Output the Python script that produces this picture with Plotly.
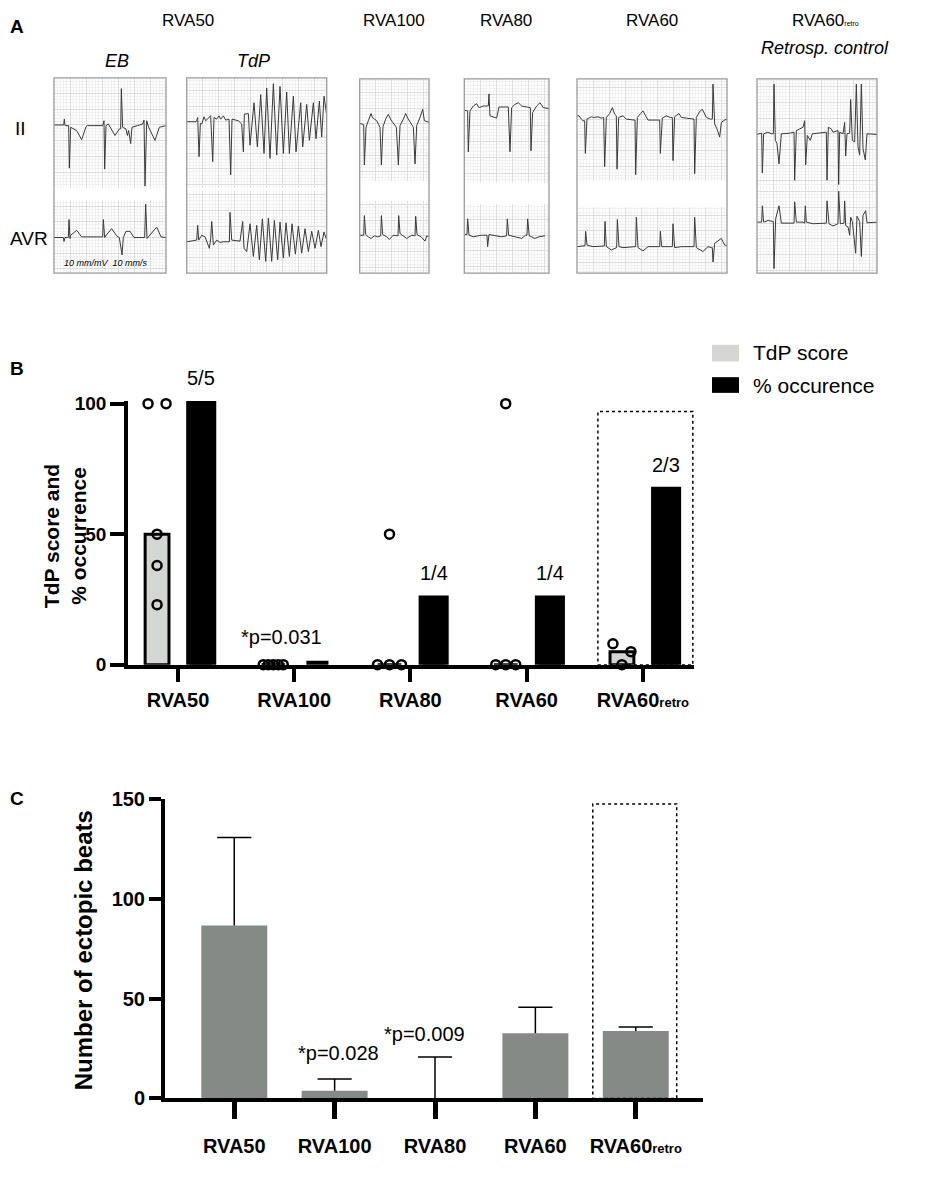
import numpy as np
import plotly.graph_objects as go

W, H = 925, 1175   # figure size; the page adds an 8px body margin
OFF = 8
FONT = "Liberation Sans, Arial, sans-serif"

groups = ["RVA50", "RVA100", "RVA80", "RVA60", "RVA60retro"]
group_ticks = ["RVA50", "RVA100", "RVA80", "RVA60",
               "RVA60<span style='font-size:13px'>retro</span>"]

# panel B: TdP score per animal, occurrence as n / total
tdp_points = [[100, 100, 50, 38, 23], [0, 0, 0, 0, 0], [50, 0, 0, 0],
              [100, 0, 0, 0], [8, 5, 0]]
occ_n = [5, 0, 1, 1, 2]
occ_total = [5, 5, 4, 4, 3]
occ_pval = [None, "*p=0.031", None, None, None]

# panel C: ectopic beats, mean and SD
ectopic_mean = [86.6, 3.8, 0, 32.6, 33.8]
ectopic_sd = [44.2, 5.9, 20.8, 13.1, 2.0]
ectopic_pval = [None, "*p=0.028", "*p=0.009", None, None]

# panel A: ECG strips, (time, amplitude)
eb_ii = [(0, 0), (29, 0), (31, 18), (33, -2), (44, -2), (46, -132), (50, -7), (68, -17), (83, -45),
         (96, -5), (100, -2), (146, -2), (150, 13), (152, -135), (156, -2), (163, 3), (183, -32),
         (196, -12), (200, -12), (202, 111), (206, -7), (216, -12), (220, -32), (224, -17),
         (230, -57), (234, -7), (250, -2), (266, 3), (270, 15), (273, -187), (278, 13), (284, -7),
         (303, -47), (316, -7), (336, -2)]
eb_avr = [(0, 0), (28, 0), (30, -12), (33, 0), (43, 0), (45, 55), (48, -3), (50, 7), (68, 22),
          (83, 2), (146, 2), (148, 55), (152, 0), (158, 9), (173, 27), (188, 5), (196, 0),
          (204, -53), (208, 0), (216, 19), (228, 19), (240, 0), (272, 0), (275, 102), (279, -3),
          (288, 7), (308, 32), (321, 2), (336, 0)]
tdp_ii = [(0, 0), (28, 0), (30, 3), (33, 13), (37, -107), (41, -5), (45, -7), (52, 15), (57, 3),
          (68, 13), (72, 18), (78, -122), (82, 13), (90, 8), (97, 18), (102, 8), (110, 18),
          (117, 5), (127, 8), (132, -162), (136, 8), (155, 3), (165, -7), (170, -92), (173, 23),
          (185, 25), (190, -72), (202, 58), (212, -77), (222, 83), (232, -97), (240, 103),
          (250, -112), (260, 116), (270, -102), (280, 108), (290, -97), (300, 91), (308, -97),
          (320, 78), (328, -92), (342, 58), (348, -77), (360, 53), (368, -57), (380, 58),
          (388, -52), (398, 63), (405, -47), (412, 78), (420, 20)]
tdp_avr = [(0, 0), (30, 5), (33, 50), (36, 5), (45, 20), (55, 15), (68, -20), (72, 10), (75, 62),
           (80, -10), (90, 5), (100, -2), (110, 0), (128, 0), (130, 90), (135, 5), (160, 2),
           (165, 40), (168, 62), (172, -20), (180, -30), (190, 55), (200, -45), (210, 50),
           (218, -55), (227, 70), (237, -60), (245, 72), (255, -60), (263, 65), (273, -55),
           (280, 60), (290, -50), (298, 58), (308, -45), (316, 55), (326, -38), (335, 48),
           (345, -35), (355, 40), (365, -30), (375, 32), (385, -20), (395, 35), (403, -15),
           (412, 30), (420, 5)]
rva100_ii = [(0, 2), (8, -2), (12, -2), (14, -125), (19, -10), (26, 10), (34, 32), (38, 20),
             (44, 15), (51, 10), (56, 0), (61, -10), (65, -125), (70, -8), (78, 15), (86, 30),
             (94, 12), (104, 0), (110, -10), (116, -125), (121, -5), (131, 15), (138, 32),
             (144, 18), (154, 0), (161, -10), (166, -122), (171, -5), (181, 20), (189, 45),
             (194, 10), (208, 5)]
rva100_avr = [(0, 2), (12, 2), (14, 62), (18, 4), (26, -3), (34, -8), (44, 0), (54, -3), (63, 0),
              (65, 62), (69, 4), (81, -3), (89, -11), (101, 2), (115, 0), (117, 62), (121, 7),
              (131, -1), (141, -8), (156, 2), (166, 0), (168, 60), (172, 4), (184, -3),
              (196, -16), (201, 0), (208, -3)]
rva80_ii = [(0, 0), (7, -2), (10, -2), (12, -127), (17, -2), (27, 13), (37, 20), (44, 8), (57, 13),
            (72, 13), (74, 50), (77, -17), (87, -20), (97, -24), (104, 10), (132, 10),
            (137, -127), (142, 8), (152, 18), (162, 23), (172, 13), (192, 8), (198, 8),
            (200, -124), (205, -7), (217, 13), (227, 23), (237, 8), (254, 5)]
rva80_avr = [(0, 2), (8, 2), (10, 50), (14, 0), (27, -5), (52, 0), (68, 0), (70, -35), (74, 2),
             (92, -2), (112, -5), (127, -2), (129, 50), (133, 0), (152, -5), (172, -10), (184, 0),
             (188, 0), (190, 50), (195, -2), (212, -10), (224, -5), (242, -2)]
rva60_ii = [(0, 10), (6, 10), (13, 0), (18, -5), (23, -5), (25, -105), (30, 0), (43, 7), (50, 5),
            (63, 7), (73, 3), (80, 5), (83, -145), (88, 5), (98, 17), (106, 35), (113, 15),
            (118, 10), (120, -153), (125, 5), (138, 10), (148, 0), (171, -3), (174, -3),
            (176, -170), (181, 5), (191, 17), (198, 25), (206, 10), (213, -3), (243, -3),
            (248, -3), (250, -105), (256, 3), (268, 10), (280, 5), (286, 5), (288, -127),
            (293, 7), (306, 17), (313, 5), (343, 0), (351, 0), (353, -167), (358, 5), (368, 23),
            (376, 30), (388, 5), (400, 0), (406, 0), (408, 107), (413, -15), (420, -30),
            (428, -55), (433, -10), (443, -3), (450, 0)]
rva60_avr = [(0, 0), (18, 3), (24, 3), (26, 47), (30, 5), (48, 0), (76, 2), (82, 2), (84, 77),
             (88, 0), (103, -10), (116, -3), (119, -3), (121, 83), (126, 0), (138, -3), (168, 0),
             (176, 0), (178, 90), (183, -3), (198, -13), (213, 0), (243, 0), (248, 0), (250, 47),
             (254, 0), (278, 0), (286, 0), (288, 70), (293, -3), (313, 0), (343, 0), (351, 0),
             (353, 90), (358, -3), (378, -15), (393, 0), (403, -3), (406, -3), (408, -47),
             (413, 10), (426, 20), (433, 25), (443, 5), (450, 3)]
retro_ii = [(0, -2), (10, 2), (14, 2), (16, -120), (20, 0), (33, 5), (43, 0), (49, 0), (51, 152),
            (55, -20), (60, -30), (66, -92), (73, 0), (98, 2), (108, 5), (111, 5), (113, -142),
            (118, 10), (128, 15), (138, 20), (143, 40), (146, -95), (151, -5), (160, -20),
            (166, 0), (193, 2), (206, 5), (208, 5), (210, -142), (214, 20), (223, 15), (228, 5),
            (243, 10), (245, -155), (248, 5), (258, 0), (263, 35), (266, -68), (270, 0),
            (278, 2), (281, 105), (286, -20), (293, -25), (298, 152), (303, -40), (308, -65),
            (313, 152), (318, -45), (325, -80), (330, 0), (360, -2)]
retro_avr = [(0, 3), (14, 3), (16, 53), (20, 3), (33, 8), (43, 5), (49, 5), (51, -139), (56, 13),
             (66, 53), (73, 0), (108, 0), (111, 0), (113, 65), (118, 3), (138, 3), (143, 0),
             (145, 53), (148, 3), (168, -2), (208, 0), (210, 68), (216, -2), (228, -9), (243, -2),
             (245, 98), (250, -2), (261, 0), (263, 68), (266, -7), (273, -12), (278, -37),
             (281, 18), (286, 5), (296, -92), (300, 21), (308, 5), (313, -102), (318, 23),
             (326, 38), (330, 1), (360, 3)]

# box layout in page pixels: left, right, strips (top, bottom, baseline)
ecg_boxes = [
    (54, 166, [(68, 180, 116, eb_ii), (192, 267, 230.7, eb_avr)]),
    (186.7, 326.7, [(68, 180, 112.7, tdp_ii), (183, 267, 235, tdp_avr)]),
    (359.7, 429, [(69, 173.3, 115, rva100_ii), (193.3, 267, 229, rva100_avr)]),
    (464.3, 549, [(69, 175, 101, rva80_ii), (196.7, 267, 228.3, rva80_avr)]),
    (577, 727, [(69, 173.3, 110, rva60_ii), (200, 267, 240, rva60_avr)]),
    (757, 877, [(69, 180, 125, retro_ii), (180, 267, 216, retro_avr)]),
]
UNITS = 3  # trace units per page pixel


def px(x):
    return (x - OFF) / W


def py(y):
    return 1 - (y - OFF) / H


fig = go.Figure()
layout = {}
shapes = []
annotations = []


def note(x, y, text, size, **kw):
    d = dict(x=px(x), y=py(y), xref="paper", yref="paper", text=text, showarrow=False,
             xanchor="center", yanchor="middle", font=dict(size=size))
    d.update(kw)
    annotations.append(d)


k = 0
for left, right, strips in ecg_boxes:
    for top, bottom, base, trace in strips:
        k += 1
        ax = "" if k == 1 else str(k)
        t = [p[0] for p in trace]
        v = [p[1] for p in trace]
        fig.add_trace(go.Scatter(x=t, y=v, mode="lines", xaxis="x" + ax, yaxis="y" + ax,
                                 line=dict(color="#3a3a3a", width=1), hoverinfo="skip",
                                 showlegend=False))
        grid = dict(showgrid=True, gridcolor="#dedede", gridwidth=0.6, dtick=48, tick0=0,
                    minor=dict(dtick=9.6, showgrid=True, gridcolor="#f1f1f1", gridwidth=0.5),
                    showticklabels=False, ticks="", zeroline=False, showline=False,
                    fixedrange=True)
        layout["xaxis" + ax] = dict(domain=[px(left), px(right)], range=[0, (right - left) * UNITS],
                                    anchor="y" + ax, **grid)
        layout["yaxis" + ax] = dict(domain=[py(bottom), py(top)],
                                    range=[(base - bottom) * UNITS, (base - top) * UNITS],
                                    anchor="x" + ax, **grid)
    shapes.append(dict(type="rect", xref="paper", yref="paper", x0=px(left), x1=px(right),
                       y0=py(267), y1=py(strips[0][0]), line=dict(color="#9a9a9a", width=1.3)))

XB, YB = "x13", "y13"
XC, YC = "x14", "y14"
npos = np.arange(len(groups))

# ---- panel B ----
B_X0, B_XPX = 178, 116.3   # page x of first category, px per category
B_Y0, B_YPX = 666, 2.66    # page y of zero, px per unit
grey_off, black_off = -0.18, 0.2
tdp_median = [np.median(p) for p in tdp_points]
occ_pct = [100 * n / t for n, t in zip(occ_n, occ_total)]

fig.add_trace(go.Bar(x=npos + grey_off, y=tdp_median, width=0.205, xaxis=XB, yaxis=YB,
                     marker=dict(color="#d4d6d1", line=dict(color="black", width=3)),
                     cliponaxis=False, showlegend=False))
fig.add_trace(go.Bar(x=npos + black_off, y=occ_pct, width=0.19, xaxis=XB, yaxis=YB,
                     marker=dict(color="black", line=dict(color="black", width=8)),
                     cliponaxis=False, showlegend=False))

tdp_jitter = [[-9, 9, 0, 0, 0], [-10, -5, 0, 5, 10], [0, -12, 0, 12], [0, -10, 0, 10], [-9, 9, 0]]
sx, sy = [], []
for i, (pts, jit) in enumerate(zip(tdp_points, tdp_jitter)):
    for val, j in zip(pts, jit):
        sx.append(i + grey_off + j / B_XPX)
        sy.append(val)
fig.add_trace(go.Scatter(x=sx, y=sy, mode="markers", xaxis=XB, yaxis=YB, cliponaxis=False,
                         marker=dict(symbol="circle-open", size=9, color="black",
                                     line=dict(width=2.5)),
                         showlegend=False))


def b_note(xv, yv, text):
    note(B_X0 + xv * B_XPX, B_Y0 - yv * B_YPX, text, 20)


for i in range(len(groups)):
    if occ_n[i] > 0:
        b_note(i + black_off, occ_pct[i] + 10, f"{occ_n[i]}/{occ_total[i]}")
    if occ_pval[i]:
        b_note(i - 0.11, 10.5, occ_pval[i])

shapes.append(dict(type="rect", xref=XB, yref=YB, x0=3.613, x1=4.43, y0=0, y1=97,
                   line=dict(color="black", width=1.5, dash="dot")))

axis_style = dict(ticks="outside", tickcolor="black", showline=True, linecolor="black",
                  showgrid=False, zeroline=False, fixedrange=True)
layout["xaxis13"] = dict(domain=[px(128), px(694)], range=[-0.43, 4.44], anchor=YB,
                         tickvals=list(npos), ticktext=group_ticks, ticklen=14, tickwidth=3.5,
                         linewidth=3.5, ticklabelstandoff=1,
                         tickfont=dict(size=20, weight="bold", color="black"), **axis_style)
layout["yaxis13"] = dict(domain=[py(B_Y0), py(B_Y0 - 101 * B_YPX)], range=[0, 101], anchor=XB,
                         tickvals=[0, 50, 100], ticklen=14, tickwidth=3.5, linewidth=3.5,
                         tickfont=dict(size=19, weight="bold", color="black"), **axis_style)

# legend
shapes.append(dict(type="rect", xref="paper", yref="paper", x0=px(712), x1=px(739),
                   y0=py(357), y1=py(340), fillcolor="#d4d6d1", line=dict(width=0)))
shapes.append(dict(type="rect", xref="paper", yref="paper", x0=px(712), x1=px(739),
                   y0=py(389), y1=py(373), fillcolor="black", line=dict(width=0)))
note(751, 348, "TdP score", 21, xanchor="left")
note(751, 381, "% occurence", 21, xanchor="left")
note(65, 535, "<b>TdP score and<br>% occurrence</b>", 21, textangle=-90)

# ---- panel C ----
fig.add_trace(go.Bar(x=npos, y=ectopic_mean, width=0.657, xaxis=XC, yaxis=YC,
                     marker=dict(color="#858a86", line=dict(width=0)), showlegend=False))
cap = 0.17
wx, wy = [], []
for i, (m, s) in enumerate(zip(ectopic_mean, ectopic_sd)):
    wx += [i, i, None, i - cap, i + cap, None]
    wy += [m, m + s, None, m + s, m + s, None]
fig.add_trace(go.Scatter(x=wx, y=wy, mode="lines", xaxis=XC, yaxis=YC,
                         line=dict(color="black", width=1.5), showlegend=False))

ectopic_pval_pos = [None, (1.04, 22.6), (1.9, 32.5), None, None]
for txt, pos in zip(ectopic_pval, ectopic_pval_pos):
    if txt:
        annotations.append(dict(x=pos[0], y=pos[1], xref=XC, yref=YC, text=txt,
                                showarrow=False, font=dict(size=20)))
shapes.append(dict(type="rect", xref=XC, yref=YC, x0=3.572, x1=4.408, y0=0, y1=147.6,
                   line=dict(color="black", width=1.5, dash="dot")))

layout["xaxis14"] = dict(domain=[px(165), px(703)], range=[-0.69, 4.67], anchor=YC,
                         tickvals=list(npos), ticktext=group_ticks, ticklen=17, tickwidth=4.5,
                         linewidth=4, ticklabelstandoff=10,
                         tickfont=dict(size=20, weight="bold", color="black"), **axis_style)
layout["yaxis14"] = dict(domain=[py(1108), py(803)], range=[0, 150], anchor=XC,
                         tickvals=[0, 50, 100, 150], ticklen=12, tickwidth=4, linewidth=4,
                         tickfont=dict(size=20, weight="bold", color="black"), **axis_style)
note(83, 957, "<b>Number of ectopic beats</b>", 24, textangle=-90)

# ---- panel A texts ----
head = [("RVA50", 188, 10, 17, False), ("RVA100", 394, 10, 17, False),
        ("RVA80", 506, 10, 17, False), ("RVA60", 652, 10, 17, False),
        ("RVA60<span style='font-size:7px'>retro</span>", 825, 10, 17, False),
        ("EB", 117, 51, 18, True), ("TdP", 253, 51, 18, True),
        ("Retrosp. control", 825, 38, 18, True), ("II", 20, 120, 19, False),
        ("AVR", 29, 232, 19, False)]
for txt, x, y, size, italic in head:
    note(x, y, f"<i>{txt}</i>" if italic else txt, size)
note(62, 257, "<i>10 mm/mV  10 mm/s</i>", 9, xanchor="left")
for lab, x, y in [("A", 17, 16), ("B", 17, 364), ("C", 17, 802)]:
    note(x, y, f"<b>{lab}</b>", 19)

fig.update_layout(
    width=W, height=H, autosize=False,
    margin=dict(l=0, r=0, t=0, b=0),
    paper_bgcolor="white", plot_bgcolor="white",
    font=dict(family=FONT, color="black"),
    barmode="overlay", showlegend=False,
    shapes=shapes, annotations=annotations,
    **layout,
)
fig.write_html("out.html")
